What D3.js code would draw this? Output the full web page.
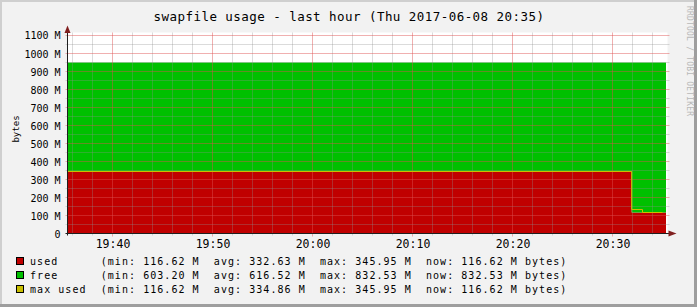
<!DOCTYPE html>
<html><head><meta charset="utf-8">
<script src="https://cdn.jsdelivr.net/npm/d3@7"></script>
<style>
html,body{margin:0;padding:0;background:#F2F2F2;}
svg text{font-family:"DejaVu Sans Mono",monospace;white-space:pre;}
</style></head>
<body>
<svg id="chart" width="697" height="307"></svg>
<script>
// ---- data ----
const title = "swapfile usage - last hour (Thu 2017-06-08 20:35)";
const yTitle = "bytes";
const watermark = "RRDTOOL / TOBI OETIKER";
const domainStart = "19:35:30", domainEnd = "20:35:30";
const stepTimes = ["19:35:30", "20:31:55", "20:33:00", "20:35:21"]; // boundaries
const usedVals = [345.95, 116.62, 116.62];
const freeVals = [603.20, 832.53, 832.53];
const lineTimes = ["19:35:30", "20:31:55", "20:33:00", "20:35:00"];
const maxUsedVals = [345.95, 138.0, 116.62];
const yTicks = [0, 100, 200, 300, 400, 500, 600, 700, 800, 900, 1000, 1100];
const yTickLabels = ["0", "100 M", "200 M", "300 M", "400 M", "500 M", "600 M", "700 M", "800 M", "900 M", "1000 M", "1100 M"];
const legendNames = ["used", "free", "max used"];
const legendColors = ["#C00000", "#00C000", "#C8BE00"];
const legendStats = [
  "(min: 116.62 M  avg: 332.63 M  max: 345.95 M  now: 116.62 M bytes)",
  "(min: 603.20 M  avg: 616.52 M  max: 832.53 M  now: 832.53 M bytes)",
  "(min: 116.62 M  avg: 334.86 M  max: 345.95 M  now: 116.62 M bytes)"
];

// ---- drawing ----
const W = 697, H = 307;
const svg = d3.select("#chart");
const parse = d3.timeParse("%H:%M:%S");
const L = 67.5, R = 667.5, T = 32.5, B = 233.5;
const x = d3.scaleTime().domain([parse(domainStart), parse(domainEnd)]).range([L, R]);
const y = d3.scaleLinear().domain([0, 1116]).range([B, T]);

// frame
svg.append("rect").attr("width", W).attr("height", H).attr("fill", "#F2F2F2");
svg.append("path").attr("d", `M0,0H${W}V2H2V${H}H0Z`).attr("fill", "#CFCFCF");
svg.append("path").attr("d", `M${W},0V${H}H0V${H-3}H${W-3}V0Z`).attr("fill", "#9E9E9E");

// canvas
svg.append("rect").attr("x", L).attr("y", T).attr("width", R - L).attr("height", B - T).attr("fill", "#FFFFFF");

// data
const pts = stepTimes.map((t, i) => {
  const k = Math.min(i, usedVals.length - 1);
  return {t: parse(t), used: usedVals[k], free: freeVals[k]};
});
const areaUsed = d3.area().curve(d3.curveStepAfter).x(d => x(d.t)).y0(y(0)).y1(d => y(d.used));
const areaFree = d3.area().curve(d3.curveStepAfter).x(d => x(d.t)).y0(d => y(d.used)).y1(d => y(d.used + d.free));
svg.append("path").datum(pts).attr("d", areaUsed).attr("fill", legendColors[0]);
svg.append("path").datum(pts).attr("d", areaFree).attr("fill", legendColors[1]);

// grid
const g = svg.append("g");
const minorY = d3.range(0, 1150, 50).filter(v => v % 100 !== 0);
g.selectAll(".gy").data(minorY).join("line")
  .attr("x1", L - 2).attr("x2", R + 2)
  .attr("y1", d => Math.round(y(d)) + 0.5).attr("y2", d => Math.round(y(d)) + 0.5)
  .attr("stroke", "#8F8F8F").attr("stroke-opacity", 0.32);
const minorX = d3.timeMinute.every(2).range(parse(domainStart), parse(domainEnd)).filter(d => d.getMinutes() % 10 !== 0);
g.selectAll(".gx").data(minorX).join("line")
  .attr("x1", d => Math.floor(x(d)) + 0.5).attr("x2", d => Math.floor(x(d)) + 0.5)
  .attr("y1", T).attr("y2", B + 2)
  .attr("stroke", "#8F8F8F").attr("stroke-opacity", 0.32);
g.selectAll(".my").data(yTicks.slice(1)).join("line")
  .attr("x1", L - 2).attr("x2", R + 2)
  .attr("y1", d => Math.round(y(d)) + 0.5).attr("y2", d => Math.round(y(d)) + 0.5)
  .attr("stroke", "#DE5050").attr("stroke-opacity", 0.45);
const majorX = d3.timeMinute.every(10).range(parse(domainStart), parse(domainEnd));
g.selectAll(".mx").data(majorX).join("line")
  .attr("x1", d => Math.floor(x(d)) + 0.5).attr("x2", d => Math.floor(x(d)) + 0.5)
  .attr("y1", T).attr("y2", B + 3)
  .attr("stroke", "#DE5050").attr("stroke-opacity", 0.45);

// max used line
const lpts = lineTimes.map((t, i) => ({t: parse(t), v: maxUsedVals[Math.min(i, maxUsedVals.length - 1)]}));
svg.append("path").datum(lpts)
  .attr("d", d3.line().curve(d3.curveStepAfter).x(d => x(d.t)).y(d => Math.round(y(d.v)) + 0.5))
  .attr("fill", "none").attr("stroke", legendColors[2]).attr("stroke-width", 1);

// axes lines + arrows
svg.append("line").attr("x1", L - 2).attr("x2", R + 3).attr("y1", B).attr("y2", B).attr("stroke", "#1F1F1F");
svg.append("line").attr("x1", L).attr("x2", L).attr("y1", B + 2).attr("y2", T - 2).attr("stroke", "#1F1F1F");
svg.append("path").attr("d", `M${R+1},${B-3}L${R+9},${B}L${R+1},${B+3}Z`).attr("fill", "#801F1F");
svg.append("path").attr("d", `M${L-3},${T+0.5}L${L},${T-7}L${L+3},${T+0.5}Z`).attr("fill", "#801F1F");

// y tick labels
const yAxis = d3.axisLeft(y).tickValues(yTicks).tickSize(0).tickPadding(0)
  .tickFormat((d, i) => yTickLabels[i]);
const ya = svg.append("g").attr("transform", `translate(${L - 7},0)`).call(yAxis);
ya.select(".domain").remove();
ya.selectAll("text").attr("font-family", "DejaVu Sans Mono").attr("font-size", 10).attr("fill", "#000").attr("dy", "0.36em");

// x tick labels
const xAxis = d3.axisBottom(x).tickValues(majorX).tickSize(0).tickPadding(0).tickFormat(d3.timeFormat("%H:%M"));
const xa = svg.append("g").attr("transform", `translate(0,${B})`).call(xAxis);
xa.select(".domain").remove();
xa.selectAll("text").attr("font-family", "DejaVu Sans Mono").attr("font-size", 11.5).attr("fill", "#000")
  .attr("dy", null).attr("y", 14.5);

// title
svg.append("text").attr("x", 349).attr("y", 20.7).attr("text-anchor", "middle")
  .attr("font-size", 12.5).attr("letter-spacing", 0.45).attr("fill", "#000").text(title);

// y title
svg.append("text").attr("transform", "translate(18.5,129) rotate(-90)").attr("text-anchor", "middle")
  .attr("font-size", 9).attr("fill", "#000").text(yTitle);

// watermark
svg.append("text").attr("transform", "translate(686.5,6) rotate(90)").attr("text-anchor", "start")
  .attr("font-size", 8).attr("letter-spacing", 0.2).attr("fill", "#B8B8B8").text(watermark);

// legend
const lg = svg.append("g");
legendNames.forEach((n, i) => {
  const by = 265 + i * 14;
  lg.append("rect").attr("x", 16.5).attr("y", by - 7.5).attr("width", 7).attr("height", 7)
    .attr("fill", legendColors[i]).attr("stroke", "#000");
  lg.append("text").attr("x", 30).attr("y", by).attr("font-size", 10).attr("letter-spacing", 1.05)
    .attr("fill", "#000").text(n.padEnd(10, " ") + legendStats[i]);
});
</script>
</body></html>
